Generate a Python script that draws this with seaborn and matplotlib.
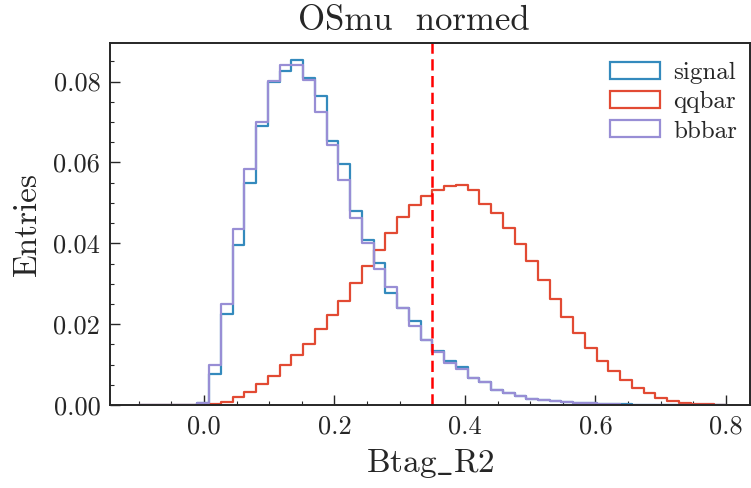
import numpy as np
import pandas as pd
import matplotlib
matplotlib.use("Agg")
import matplotlib.pyplot as plt
import matplotlib.patches as mpatches
import seaborn as sns

# histogram binning used for Btag_R2
bin_lo, bin_hi, n_bins = -0.1, 0.8, 50

# normalised bin contents (fraction per bin)
signal = [0, 0, 0, 0, 0, 0.0005, 0.0076, 0.0226, 0.0397, 0.0550,
          0.0691, 0.0798, 0.0827, 0.0853, 0.0808, 0.0765, 0.0654, 0.0595, 0.0480, 0.0407,
          0.0352, 0.0276, 0.0239, 0.0207, 0.0160, 0.0134, 0.0109, 0.0093, 0.0067, 0.0056,
          0.0037, 0.0029, 0.0022, 0.0016, 0.0012, 0.0009, 0.0007, 0.0005, 0.0004, 0.0003,
          0.0002, 0.0002, 0.0001, 0.0001, 0, 0, 0, 0, 0, 0]
qqbar = [0, 0, 0, 0, 0, 0, 0.0003, 0.0008, 0.0020, 0.0033,
         0.0053, 0.0073, 0.0098, 0.0124, 0.0152, 0.0187, 0.0222, 0.0257, 0.0303, 0.0344,
         0.0383, 0.0426, 0.0466, 0.0496, 0.0516, 0.0533, 0.0541, 0.0545, 0.0531, 0.0498,
         0.0475, 0.0439, 0.0398, 0.0356, 0.0309, 0.0263, 0.0218, 0.0179, 0.0142, 0.0109,
         0.0084, 0.0062, 0.0041, 0.0029, 0.0017, 0.0010, 0.0006, 0.0003, 0.0002, 0.0001]
bbbar = [0, 0, 0, 0, 0, 0.0006, 0.0099, 0.0251, 0.0436, 0.0584,
         0.0700, 0.0801, 0.0842, 0.0842, 0.0804, 0.0724, 0.0642, 0.0556, 0.0463, 0.0402,
         0.0337, 0.0291, 0.0239, 0.0196, 0.0160, 0.0132, 0.0105, 0.0089, 0.0066, 0.0056,
         0.0036, 0.0029, 0.0022, 0.0016, 0.0012, 0.0009, 0.0007, 0.0005, 0.0004, 0.0003,
         0.0002, 0.0001, 0.0001, 0, 0, 0, 0, 0, 0, 0]
samples = ["signal", "qqbar", "bbbar"]
colors = ["#348ABD", "#E24A33", "#988ED5"]
cut_value = 0.35

sns.set_style("ticks")
plt.rcParams["font.family"] = ["cmr10", "DejaVu Serif"]
plt.rcParams["mathtext.fontset"] = "cm"
plt.rcParams["axes.formatter.use_mathtext"] = True

edges = np.linspace(bin_lo, bin_hi, n_bins + 1)
centers = 0.5 * (edges[:-1] + edges[1:])
df = pd.DataFrame({"Btag_R2": np.tile(centers, 3),
                   "w": signal + qqbar + bbbar,
                   "sample": np.repeat(samples, n_bins)})

fig = plt.figure(figsize=(7.51, 4.88), dpi=100)
ax = fig.add_axes([0.1465, 0.170, 0.8522, 0.742])

for name, col in zip(samples, colors):
    sns.histplot(data=df[df["sample"] == name], x="Btag_R2", weights="w",
                 bins=n_bins, binrange=(bin_lo, bin_hi),
                 element="step", fill=False, color=col, linewidth=1.6, ax=ax)

ax.axvline(cut_value, color="red", linestyle="--", linewidth=1.8, dashes=(4.5, 2.2))

ymax = max(max(signal), max(qqbar), max(bbbar)) * 1.05
ax.set_xlim(-0.144, 0.837)
ax.set_ylim(0, ymax)
ax.set_xticks([0.0, 0.2, 0.4, 0.6, 0.8])
ax.set_xticks(np.arange(-0.1, 0.85, 0.05), minor=True)
ax.set_yticks([0.0, 0.02, 0.04, 0.06, 0.08])
ax.set_yticks(np.arange(0.0, 0.089, 0.005), minor=True)
ax.xaxis.set_major_formatter(matplotlib.ticker.FormatStrFormatter("%.1f"))
ax.yaxis.set_major_formatter(matplotlib.ticker.FormatStrFormatter("%.2f"))
ax.tick_params(which="major", direction="in", length=7, width=1.0, labelsize=19, pad=7)
ax.tick_params(which="minor", direction="in", length=3, width=0.8)
for s in ax.spines.values():
    s.set_linewidth(1.4)

ax.set_xlabel(r"$\mathrm{Btag\_R2}$", fontsize=24, labelpad=6)
ax.set_ylabel("Entries", fontsize=24, labelpad=8)
ax.set_title("OSmu  normed", fontsize=25, pad=9, x=0.475)

handles = [mpatches.Patch(facecolor="none", edgecolor=c, linewidth=1.6, label=n)
           for n, c in zip(samples, colors)]
ax.legend(handles=handles, loc="upper right", frameon=False, fontsize=18,
          handlelength=2.0, handleheight=0.68, labelspacing=0.27, handletextpad=0.5,
          borderaxespad=0.0, bbox_to_anchor=(0.995, 0.975))

fig.savefig("out.png", dpi=100)
